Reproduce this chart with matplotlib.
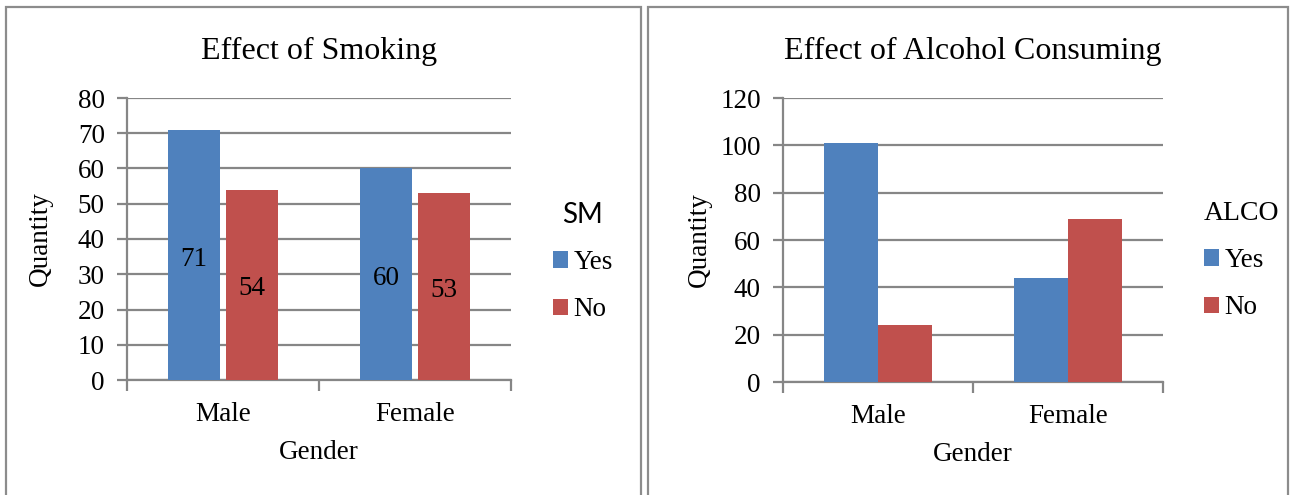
import numpy as np
import matplotlib.pyplot as plt
from matplotlib.patches import Rectangle
from matplotlib.ticker import FixedLocator

# data
genders = ["Male", "Female"]
smoke_yes = [71, 60]
smoke_no = [54, 53]
alco_yes = [101, 44]
alco_no = [24, 69]

BLUE = "#4F81BD"
RED = "#C0504D"
GRID = "#868686"
W, H = 1294, 495
FS = 19.5

plt.rcParams['font.family'] = ['Liberation Serif', 'DejaVu Serif']

fig = plt.figure(figsize=(W / 100, H / 100), dpi=100)


def px_rect(x0, y0, x1, y1):
    # pixel box (top-left origin) -> figure fraction [l, b, w, h]
    return [x0 / W, (H - y1) / H, (x1 - x0) / W, (y1 - y0) / H]


# panel borders
for x0, x1 in [(6, 641), (648, 1288)]:
    l, b, w, h = px_rect(x0, 7, x1, 500)
    fig.patches.append(Rectangle((l, b), w, h, transform=fig.transFigure,
                                 fill=False, edgecolor="#8c8c8c", lw=1.6))


def draw(box, yes, no, ymax, step, title, leg_title, leg_font, leg_pos,
         leg_align, ylabpad, labels=False, gap=0.0):
    ax = fig.add_axes(px_rect(*box))
    x = np.arange(len(genders))
    bw = 0.285 - gap
    off = 0.285 / 2 + gap / 2
    b1 = ax.bar(x - off, yes, bw, color=BLUE, label="Yes", zorder=3)
    b2 = ax.bar(x + off, no, bw, color=RED, label="No", zorder=3)
    if labels:
        for b in (b1, b2):
            for ann in ax.bar_label(b, label_type="center", fontsize=FS):
                ann.xyann = (0, -3)
    ax.set_xlim(-0.5, len(genders) - 0.5)
    ax.set_ylim(0, ymax)
    ax.set_yticks(np.arange(0, ymax + 1, step))
    ax.yaxis.grid(True, color=GRID, lw=1.6, zorder=0)
    ax.set_axisbelow(True)
    ax.set_xticks(x)
    ax.set_xticklabels(genders, fontsize=FS)
    ax.xaxis.set_minor_locator(FixedLocator([-0.5, 0.5, 1.5]))
    ax.tick_params(axis="x", which="major", length=0, pad=16)
    ax.tick_params(axis="x", which="minor", length=8, width=1.6, color=GRID)
    ax.tick_params(axis="y", length=7, width=1.6, color=GRID, labelsize=FS, pad=9)
    for s in ["top", "right"]:
        ax.spines[s].set_visible(False)
    for s in ["left", "bottom"]:
        ax.spines[s].set_color(GRID)
        ax.spines[s].set_linewidth(1.6)
    ax.set_xlabel("Gender", fontsize=FS, labelpad=9)
    ax.set_ylabel("Quantity", fontsize=FS, labelpad=ylabpad)
    ax.set_title(title, fontsize=23, pad=28)
    leg = ax.legend(frameon=False, loc="upper left",
                    bbox_to_anchor=(leg_pos[0] / W, 1 - leg_pos[1] / H),
                    bbox_transform=fig.transFigure,
                    title=leg_title, fontsize=FS,
                    title_fontproperties={"family": leg_font, "size": 20},
                    handlelength=0.55, handleheight=0.55, handletextpad=0.2,
                    labelspacing=0.82, borderpad=0, borderaxespad=0)
    leg._legend_box.align = leg_align
    return ax


draw((127, 98, 511, 380), smoke_yes, smoke_no, 80, 10,
     "Effect of Smoking", "SM", "Lato", (553, 202), "center", 18,
     labels=True, gap=0.015)
draw((783, 98, 1163, 382), alco_yes, alco_no, 120, 20,
     "Effect of Alcohol Consuming", "ALCO", "Liberation Serif", (1204, 201),
     "left", 6)

fig.savefig("out.png", dpi=100)
